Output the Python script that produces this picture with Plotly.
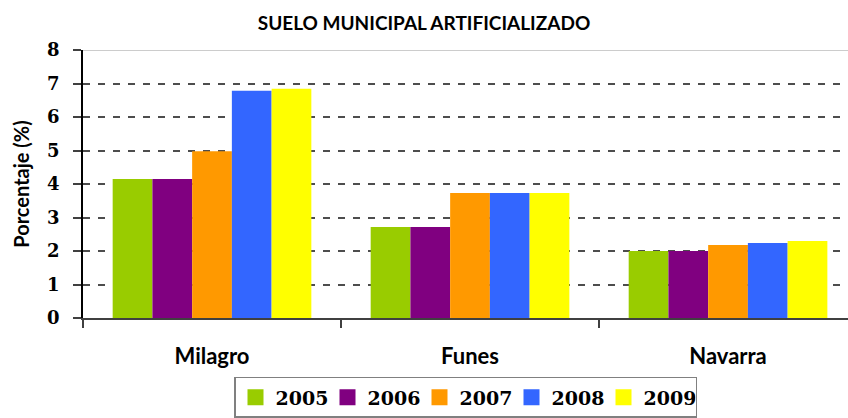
import plotly.graph_objects as go

categories = ["Milagro", "Funes", "Navarra"]
years = ["2005", "2006", "2007", "2008", "2009"]
v2005 = [4.15, 2.72, 2.0]
v2006 = [4.15, 2.72, 2.0]
v2007 = [4.98, 3.73, 2.18]
v2008 = [6.78, 3.73, 2.24]
v2009 = [6.84, 3.73, 2.30]
colors = ["#99CC00", "#800080", "#FF9900", "#3366FF", "#FFFF00"]
y_ticks = [0, 1, 2, 3, 4, 5, 6, 7, 8]

series = [v2005, v2006, v2007, v2008, v2009]

fig = go.Figure()
for name, vals, col in zip(years, series, colors):
    fig.add_trace(go.Bar(x=categories, y=vals, name=name, marker=dict(color=col, line=dict(width=0)),
                         showlegend=False))
for name, col in zip(years, colors):
    fig.add_trace(go.Scatter(x=[None], y=[None], mode="markers", name=name,
                             marker=dict(symbol="square", size=16, color=col)))

serif = dict(family="DejaVu Serif", weight="bold", color="black")
sans = dict(family="Lato", weight="bold", color="black")

fig.update_layout(
    width=848, height=418,
    margin=dict(l=83, r=0, t=50, b=100, autoexpand=False),
    paper_bgcolor="white", plot_bgcolor="white",
    barmode="group", bargap=0.23, bargroupgap=0,
    title=dict(text="SUELO MUNICIPAL ARTIFICIALIZADO", x=0.5, xref="container", xanchor="center",
               y=0.945, yref="container", yanchor="middle", font=dict(size=19, **sans)),
    legend=dict(orientation="h", x=0.5, xanchor="center", y=-0.22, yanchor="top",
                font=dict(size=19, **serif), bordercolor="#808080", borderwidth=1.5,
                itemwidth=30, entrywidth=47, entrywidthmode="pixels",
                tracegroupgap=0, itemsizing="trace"),
    xaxis=dict(range=[-0.5, 2.465], showline=True, linecolor="#404040", linewidth=2,
               ticks="outside", tickson="boundaries", ticklen=8, tickcolor="#404040", tickwidth=1.5,
               tickfont=dict(size=22, **sans), ticklabelstandoff=18, showgrid=False, zeroline=False,
               automargin=False),
    yaxis=dict(range=[0, 8], tickvals=y_ticks, showline=True, linecolor="black", linewidth=1.5,
               ticks="outside", ticklen=8, tickcolor="#404040", tickwidth=1.5,
               tickfont=dict(size=18, **serif), ticklabelstandoff=10,
               showgrid=True, gridcolor="#4d4d4d", gridwidth=1.5, griddash="7px,8px",
               zeroline=False, automargin=False,
               title=dict(text="Porcentaje (%)", font=dict(size=20, **sans), standoff=12)),
    shapes=[dict(type="line", xref="paper", x0=0, x1=1, yref="y", y0=y_ticks[-1], y1=y_ticks[-1],
                 line=dict(color="#9a9a9a", width=1), layer="below")],
)

fig.write_html("out.html", config={"displayModeBar": False},
               post_script="document.body.style.margin='0';")
